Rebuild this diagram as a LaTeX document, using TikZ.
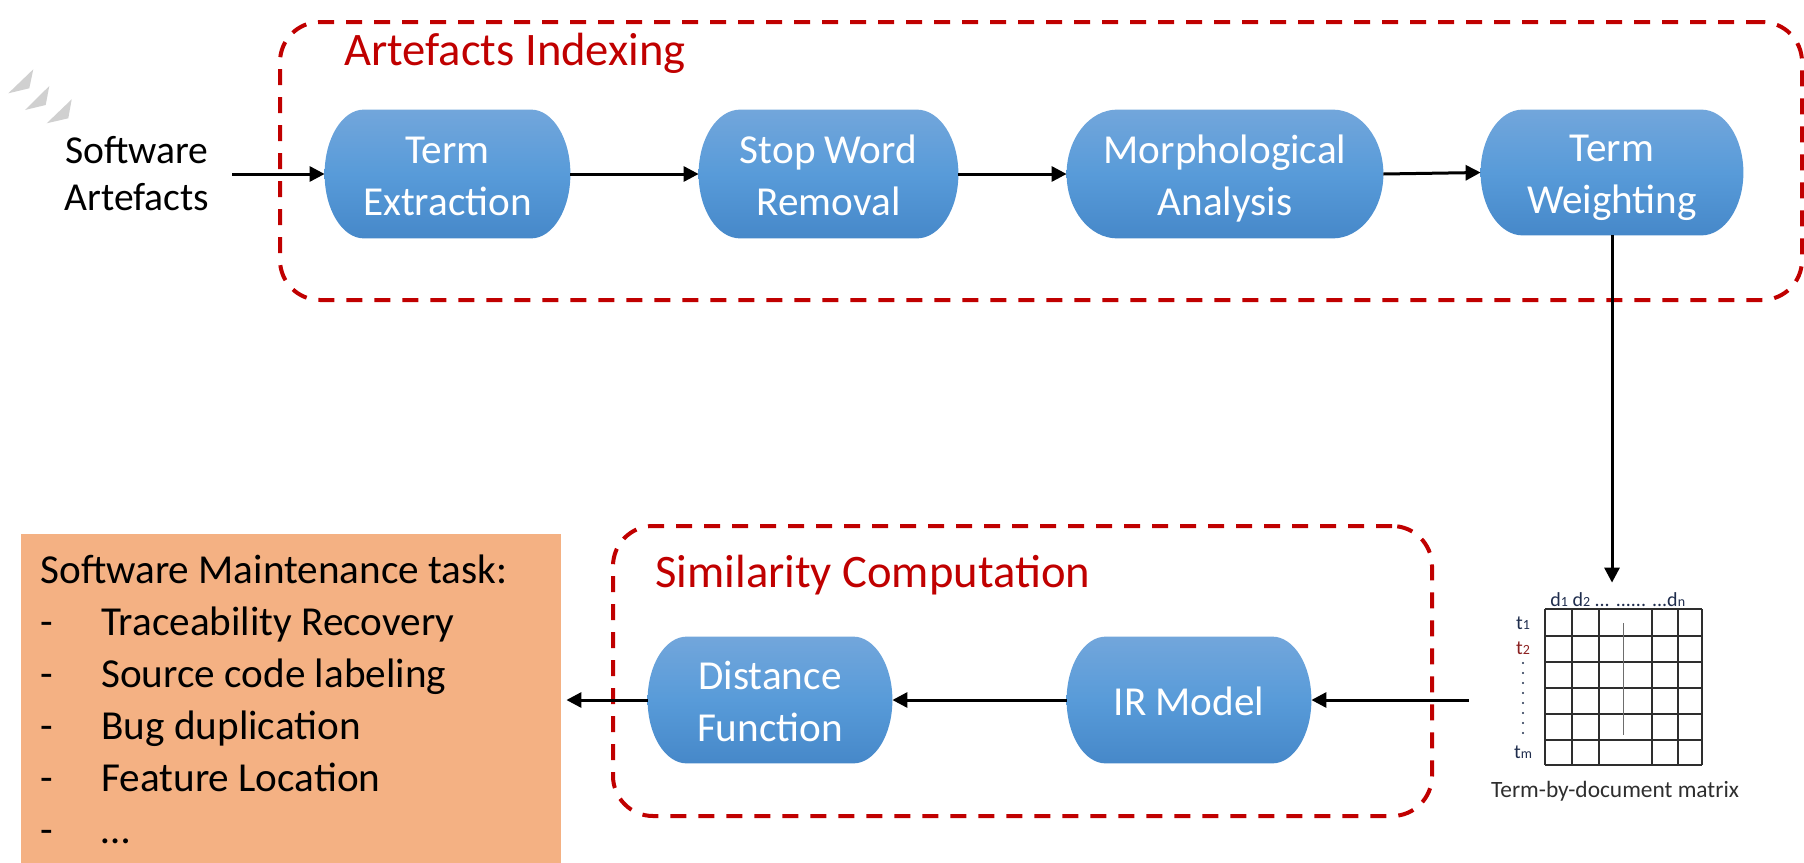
\documentclass[tikz,border=0pt]{standalone}
\usepackage{fontspec}
\setmainfont{Carlito}
\usetikzlibrary{arrows.meta,backgrounds,calc}

\definecolor{grpred}{HTML}{C00000}
\definecolor{taskorange}{HTML}{F4B183}
\definecolor{blueTop}{RGB}{114,166,219}
\definecolor{blueMid}{RGB}{88,155,217}
\definecolor{blueBot}{RGB}{70,136,201}
\definecolor{chevgray}{HTML}{D0D0D0}
\definecolor{gridink}{HTML}{2E2E2E}
\definecolor{labink}{HTML}{1F2D4D}
\definecolor{tred}{HTML}{8B2020}

% fonts
\newcommand{\blockfont}{\fontsize{20.6}{26}\selectfont}
\newcommand{\srcfont}{\fontsize{19.8}{23.5}\selectfont}
\newcommand{\titlefont}{\fontsize{23.3}{28}\selectfont}
\newcommand{\mxfont}{\fontsize{10}{11}\selectfont}
\newcommand{\mxsub}[1]{{\fontsize{7}{8}\selectfont #1}}
% line strut: height 19pt, depth 4pt
\newcommand{\lnstrut}{\rule[-4pt]{0pt}{23pt}}
\newcommand{\twolines}[2]{\lnstrut #1\\\lnstrut #2}
\newcommand{\dashitem}[1]{\lnstrut\makebox[30.5pt][l]{-}#1}

% terminator-like fill behind a named block
\newcommand{\termfill}[1]{%
  \path[blockfill] let \p1=(#1.north west), \p2=(#1.south east),
      \p3=({0.16*(\x2-\x1)},{0.5*(\y1-\y2)}) in
    (\x1+\x3,\y1) -- (\x2-\x3,\y1)
    arc[start angle=90,end angle=-90,x radius=\x3,y radius=\y3]
    -- (\x1+\x3,\y2)
    arc[start angle=270,end angle=90,x radius=\x3,y radius=\y3] -- cycle;}

\tikzset{
  block/.style={inner sep=0pt, text=white, font=\blockfont, align=center},
  blockfill/.style={top color=blueTop, bottom color=blueBot, middle color=blueMid},
  groupbox/.style={draw=grpred, line width=2pt, dash pattern=on 8pt off 6pt,
    rounded corners=20pt, inner sep=0pt},
  grouptitle/.style={inner sep=0pt, text=grpred, font=\titlefont, anchor=base west},
  flow/.style={line width=1.5pt, -{Triangle[length=7.5pt,width=7.5pt]}},
  gridline/.style={draw=gridink, line width=1.1pt},
}

\begin{document}
\begin{tikzpicture}[x=0.5pt, y=-0.5pt]
\useasboundingbox (0,0) rectangle (1804,862);

% decorative chevrons
\fill[chevgray] (8.3,93.3) -- (33.3,69.3) -- (29.3,88.3) -- cycle;
\fill[chevgray] (25,110) -- (49.3,86) -- (45.7,105) -- cycle;
\fill[chevgray] (46.7,123.3) -- (71.7,99.3) -- (68.3,118.3) -- cycle;

% group frames
\node[groupbox, minimum width=761pt, minimum height=139pt] (gIdx) at (1041,161) {};
\node[groupbox, minimum width=409.5pt, minimum height=145pt] (gSim) at (1022.5,671) {};
\node[grouptitle] (tIdx) at (344,65) {Artefacts Indexing};
\node[grouptitle] (tSim) at (655,587) {Similarity Computation};

% input text
\node[inner sep=0pt, anchor=north, align=center, font=\srcfont] (src) at (137,125)
  {\twolines{Software}{Artefacts}};
\coordinate (srcOut) at (232,174);

% indexing blocks
\node[block, minimum width=122.5pt, minimum height=64pt] (te) at (447.5,174) {\twolines{Term}{Extraction}};
\node[block, minimum width=129.5pt, minimum height=64pt] (sw) at (828.5,174) {\twolines{Stop Word}{Removal}};
\node[block, minimum width=158pt, minimum height=64pt] (ma) at (1225,174) {\twolines{Morphological}{Analysis}};
\node[block, minimum width=131pt, minimum height=62.5pt] (tw) at (1612,172.5) {\twolines{Term}{Weighting}};

% similarity blocks
\node[block, minimum width=122pt, minimum height=63pt] (ir) at (1189,700) {\lnstrut IR Model};
\node[block, minimum width=122pt, minimum height=63pt] (df) at (770,700) {\twolines{Distance}{Function}};

% maintenance tasks
\node[fill=taskorange, inner sep=0pt, minimum width=270pt, minimum height=166pt] (tb) at (291,700) {};
\node[inner sep=0pt, anchor=north west, align=left, font=\blockfont] (tasks) at (40,545)
  {\lnstrut Software Maintenance task:\\
   \dashitem{Traceability Recovery}\\
   \dashitem{Source code labeling}\\
   \dashitem{Bug duplication}\\
   \dashitem{Feature Location}\\
   \dashitem{…}};

% term-by-document matrix
\node[inner sep=0pt, minimum width=143pt, minimum height=117pt] (tdm) at (1612,700) {};
\foreach \x in {1545,1572,1599,1652,1678,1702}
  \draw[gridline] (\x,609) -- (\x,765);
\foreach \y in {609,636,662,688,714,740,765}
  \draw[gridline] (1545,\y) -- (1702,\y);
\draw[draw=gridink!70, line width=0.5pt] (1623,623) -- (1623,735);
\node[inner sep=0pt, anchor=base west, font=\mxfont, text=labink] (cols) at (1550,606)
  {d\mxsub{1} d\mxsub{2} ... ...... ...d\mxsub{n}};
\node[inner sep=0pt, font=\mxfont, text=labink] (r1) at (1523,623) {t\mxsub{1}};
\node[inner sep=0pt, font=\mxfont, text=tred] (r2) at (1523,648) {t\mxsub{2}};
\node[inner sep=0pt, font=\mxfont, text=labink] (rm) at (1523,752) {t\mxsub{m}};
\foreach \y in {663,673,...,733}
  \fill[labink] (1523,\y) circle[radius=0.55pt];
\node[inner sep=0pt, anchor=base, font=\fontsize{11.7}{14}\selectfont, text=gridink] (cap) at (1615,797)
  {Term-by-document matrix};

% block fills
\begin{scope}[on background layer]
  \termfill{te}
  \termfill{sw}
  \termfill{ma}
  \termfill{tw}
  \termfill{ir}
  \termfill{df}
\end{scope}

% connectors
\draw[flow] (srcOut) -- (te.west);
\draw[flow] (te) -- (sw);
\draw[flow] (sw) -- (ma);
\draw[flow] (ma.east) -- (tw.west);
\draw[flow] (tw.south) -- (tdm.north);
\draw[flow] (tdm.west) -- (ir.east);
\draw[flow] (ir) -- (df);
\draw[flow, shorten >=2.5pt] (df.west) -- (tb.east);
\end{tikzpicture}
\end{document}
